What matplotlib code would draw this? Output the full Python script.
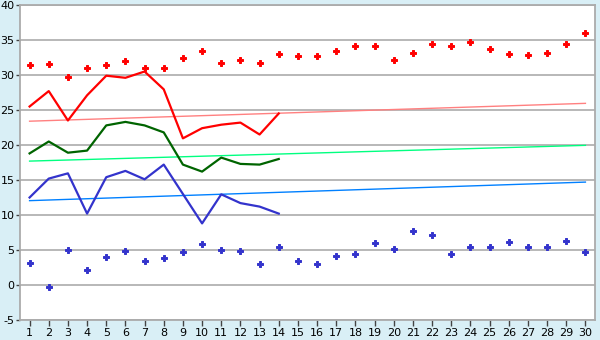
import numpy as np
import matplotlib
matplotlib.use("Agg")
import matplotlib.pyplot as plt

# categories 1..30
cats = list(range(1, 31))
line_cats = list(range(1, 15))

# scatter points (top, red)
red_pts = [31.4, 31.6, 29.7, 30.95, 31.4, 31.95, 30.95, 31.0, 32.4, 33.4,
           31.7, 32.2, 31.7, 32.95, 32.7, 32.7, 33.5, 34.2, 34.2, 32.1,
           33.1, 34.4, 34.1, 34.7, 33.7, 32.95, 32.8, 33.1, 34.4, 35.95]
# scatter points (bottom, blue)
blue_pts = [3.2, -0.33, 4.95, 2.2, 3.95, 4.8, 3.4, 3.8, 4.7, 5.8,
            4.95, 4.8, 2.95, 5.5, 3.5, 2.95, 4.2, 4.4, 5.95, 5.1,
            7.7, 7.1, 4.4, 5.5, 5.4, 6.1, 5.5, 5.5, 6.25, 4.7]

# lines (first 14 categories)
red_line = [25.5, 27.7, 23.5, 27.1, 29.9, 29.6, 30.5, 27.95, 20.95, 22.4,
            22.9, 23.2, 21.5, 24.5]
green_line = [18.8, 20.5, 18.9, 19.2, 22.8, 23.3, 22.8, 21.8, 17.2, 16.2,
              18.2, 17.3, 17.2, 18.0]
blue_line = [12.5, 15.2, 15.95, 10.2, 15.4, 16.3, 15.1, 17.2, 13.0, 8.8,
             12.95, 11.7, 11.2, 10.2]

# trend lines (start at cat 1, end at cat 30)
trend_x = [1, 30]
red_trend = [23.4, 25.95]
green_trend = [17.7, 19.95]
blue_trend = [12.05, 14.7]

bg = '#d9eff6'
grid_c = '#ababab'

fig = plt.figure(figsize=(6, 3.4), dpi=100, facecolor=bg)
ax = fig.add_axes([20/600, 20/340, 575/600, 315/340])
ax.set_facecolor('white')

for yv in range(-5, 41, 5):
    ax.axhline(yv, color=grid_c, lw=1.2, zorder=1)

ax.plot(trend_x, red_trend, color='#ff8080', lw=1, zorder=2)
ax.plot(trend_x, green_trend, color='#00ff80', lw=1, zorder=2)
ax.plot(trend_x, blue_trend, color='#0080ff', lw=1, zorder=2)

ax.plot(line_cats, red_line, color='#ff0000', lw=1.6, zorder=3)
ax.plot(line_cats, green_line, color='#006400', lw=1.6, zorder=3)
ax.plot(line_cats, blue_line, color='#3333cc', lw=1.6, zorder=3)

ax.plot(cats, red_pts, ls='none', marker='P', ms=4.5, color='#ff0000',
        markeredgewidth=0.7, zorder=4)
ax.plot(cats, blue_pts, ls='none', marker='P', ms=4.5, color='#3333cc',
        markeredgewidth=0.7, zorder=4)

ax.set_xlim(0.5, 30.5)
ax.set_ylim(-5, 40)
ax.set_xticks(cats)
ax.set_yticks(range(-5, 41, 5))
ax.set_yticklabels([str(v) for v in range(-5, 41, 5)])
ax.tick_params(axis='both', colors='#444444', labelcolor='black', labelsize=8,
               length=3, width=1, pad=1)
ax.tick_params(axis='x', length=4, pad=2)

for s in ['left', 'bottom', 'right', 'top']:
    ax.spines[s].set_color(grid_c)
    ax.spines[s].set_linewidth(1.3)

fig.savefig('out.png', dpi=100, facecolor=bg)
